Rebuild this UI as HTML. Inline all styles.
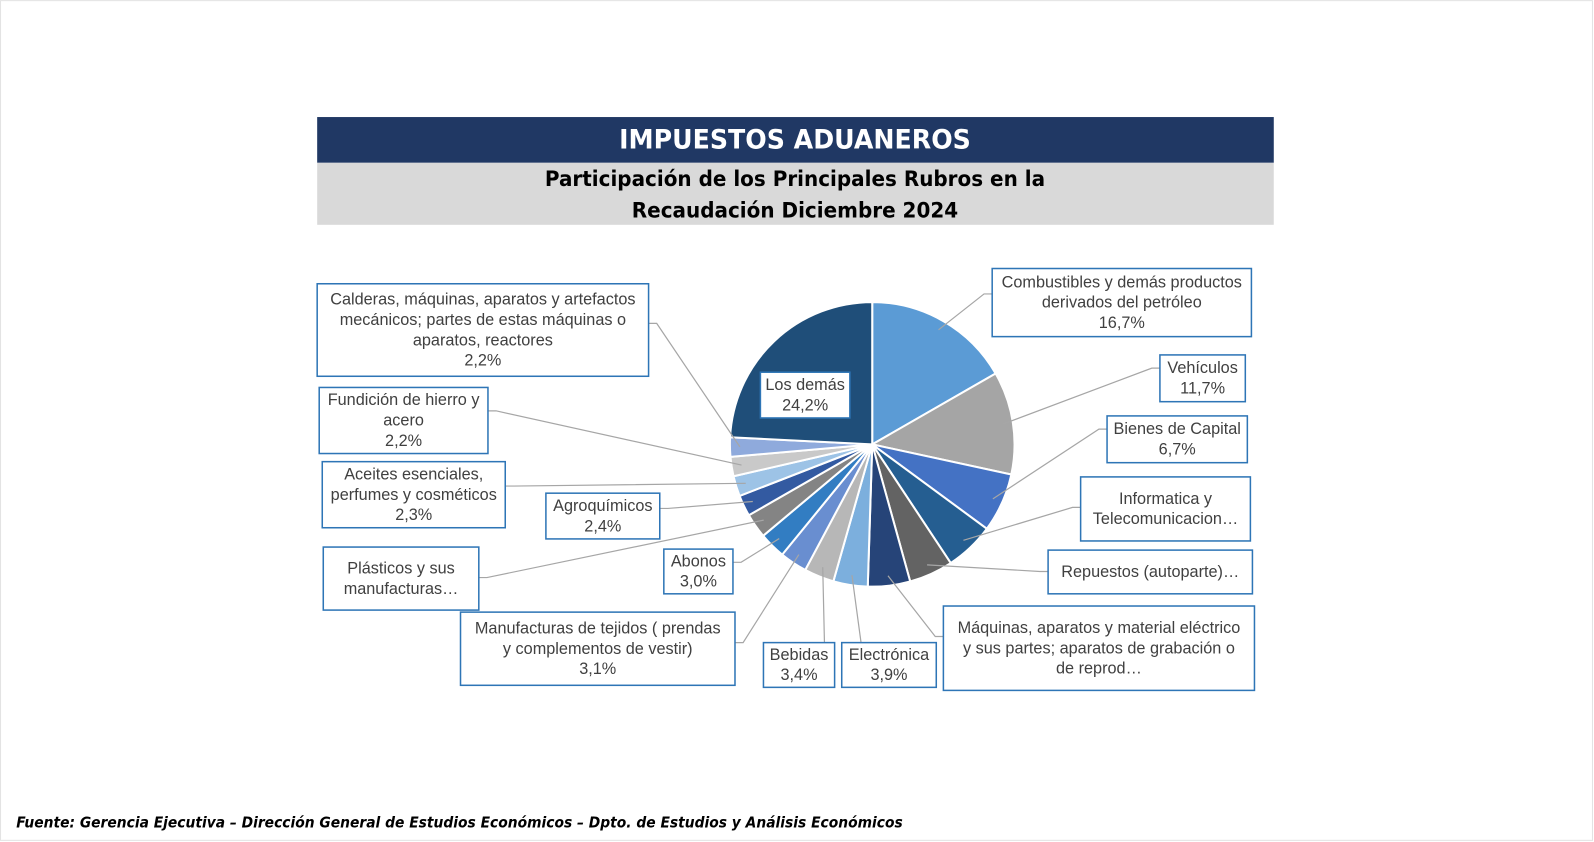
<!DOCTYPE html>
<html><head><meta charset="utf-8">
<style>
html,body{margin:0;padding:0;background:#fff;}
svg{display:block;font-family:"Liberation Sans",sans-serif;}
.ttl{font-family:"DejaVu Sans","Liberation Sans",sans-serif;font-weight:bold;}
.lbl{font-size:16px;fill:#404040;}
</style></head>
<body>
<svg id="chart" width="1594" height="842" viewBox="0 0 1568 828">
<rect x="0.5" y="0.5" width="1566" height="826" fill="#fff" stroke="#e3e3e3"/>
<rect x="312" y="115" width="941" height="45" fill="#203864"/>
<text class="ttl" x="782" y="146" text-anchor="middle" fill="#fff" font-size="26" textLength="346" lengthAdjust="spacingAndGlyphs">IMPUESTOS ADUANEROS</text>
<rect x="312" y="160" width="941" height="61" fill="#d9d9d9"/>
<text class="ttl" x="782" y="183" text-anchor="middle" fill="#000" font-size="21" textLength="492" lengthAdjust="spacingAndGlyphs">Participación de los Principales Rubros en la</text>
<text class="ttl" x="782" y="214" text-anchor="middle" fill="#000" font-size="21" textLength="321" lengthAdjust="spacingAndGlyphs">Recaudación Diciembre 2024</text>
<g id="pie"></g>
<g id="leaders"></g>
<g id="labels"></g>
<text class="ttl" x="16" y="814" font-size="15" font-style="italic" fill="#000" textLength="872" lengthAdjust="spacingAndGlyphs">Fuente: Gerencia Ejecutiva – Dirección General de Estudios Económicos – Dpto. de Estudios y Análisis Económicos</text>
</svg>
<script>
const categories = ["Combustibles","Vehículos","Bienes de Capital","Informatica","Repuestos","Máquinas eléctricas","Electrónica","Bebidas","Manufacturas de tejidos","Abonos","Plásticos","Agroquímicos","Aceites esenciales","Fundición","Calderas","Los demás"];
const values = [16.7,11.7,6.7,5.6,5.0,4.8,3.9,3.4,3.1,3.0,2.8,2.4,2.3,2.2,2.2,24.2];
const colors = ["#5b9bd5","#a5a5a5","#4472c4","#255e91","#636363","#264478","#7cafdd","#b7b7b7","#698ed0","#327dc2","#848484","#335aa1","#9dc3e6","#c9c9c9","#8faadc","#1f4e79"];
const labelTexts = [
 ["Combustibles y demás productos","derivados del petróleo","16,7%"],
 ["Vehículos","11,7%"],
 ["Bienes de Capital","6,7%"],
 ["Informatica y","Telecomunicacion…"],
 ["Repuestos (autoparte)…"],
 ["Máquinas, aparatos y material eléctrico","y sus partes; aparatos de grabación o","de reprod…"],
 ["Electrónica","3,9%"],
 ["Bebidas","3,4%"],
 ["Manufacturas de tejidos ( prendas","y complementos de vestir)","3,1%"],
 ["Abonos","3,0%"],
 ["Plásticos y sus","manufacturas…"],
 ["Agroquímicos","2,4%"],
 ["Aceites esenciales,","perfumes y cosméticos","2,3%"],
 ["Fundición de hierro y","acero","2,2%"],
 ["Calderas, máquinas, aparatos y artefactos","mecánicos; partes de estas máquinas o","aparatos, reactores","2,2%"],
 ["Los demás","24,2%"]
];
// label box layout [x,y,w,h,anchorX,anchorY]
const boxes = [
 [976,264,255,67,976,289],[1141,349,84,46,1141,362],[1089,409,138,46,1089,422],
 [1063,469,167,63,1063,499],[1031,541,201,43,1031,562],[928,596,306,83,928,626],
 [828,632,93,44,839,632],[751,632,70,44,803,632],[453,602,270,72,723,632],
 [653,540,68,44,721,553],[318,538,153,62,471,568],[537,485,112,45,649,500],
 [317,454,180,65,497,478],[314,381,166,65,480,404],[312,279,326,91,638,318],
 [748,366,88,45,null,null]
];
const cx=858, cy=437, R=140;
const NS="http://www.w3.org/2000/svg";
const pie=document.getElementById('pie'), leaders=document.getElementById('leaders'), labels=document.getElementById('labels');
const total=values.reduce((a,b)=>a+b,0);
function pt(a,r){return [cx+r*Math.sin(a), cy-r*Math.cos(a)];}
let acc=0;
values.forEach((v,i)=>{
  const a0=acc/total*2*Math.PI; acc+=v; const a1=acc/total*2*Math.PI;
  const p0=pt(a0,R), p1=pt(a1,R);
  const path=document.createElementNS(NS,'path');
  path.setAttribute('d',`M${cx},${cy}L${p0[0]},${p0[1]}A${R},${R} 0 ${a1-a0>Math.PI?1:0} 1 ${p1[0]},${p1[1]}Z`);
  path.setAttribute('fill',colors[i]); path.setAttribute('stroke','#fff'); path.setAttribute('stroke-width','2');
  
  
  pie.appendChild(path);
  const b=boxes[i];
  if(b[4]!==null){
    const am=(a0+a1)/2, pm=pt(am,R*0.93);
    const ln=document.createElementNS(NS,'polyline');
    const ex = b[4] > cx ? b[4]-8 : b[4]+8;
    ln.setAttribute('points',`${pm[0]},${pm[1]} ${ex},${b[5]} ${b[4]},${b[5]}`);
    ln.setAttribute('fill','none'); ln.setAttribute('stroke','#a6a6a6'); ln.setAttribute('stroke-width','1.2');
    
    
    leaders.appendChild(ln);
  }
  const g=document.createElementNS(NS,'g');
  
  
  const r=document.createElementNS(NS,'rect');
  r.setAttribute('x',b[0]);r.setAttribute('y',b[1]);r.setAttribute('width',b[2]);r.setAttribute('height',b[3]);
  r.setAttribute('fill','#fff');r.setAttribute('stroke','#2e75b6');r.setAttribute('stroke-width','1.5');
  g.appendChild(r);
  const lines=labelTexts[i], lh=20, start=b[1]+b[3]/2-(lines.length-1)*lh/2+5;
  lines.forEach((s,k)=>{
    const t=document.createElementNS(NS,'text');
    t.setAttribute('x',b[0]+b[2]/2);t.setAttribute('y',start+k*lh);
    t.setAttribute('text-anchor','middle');t.setAttribute('class','lbl');
    t.textContent=s; g.appendChild(t);
  });
  labels.appendChild(g);
});
</script>
</body></html>
